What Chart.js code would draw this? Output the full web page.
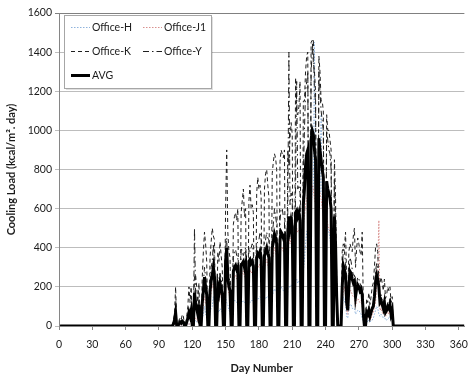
<!DOCTYPE html>
<html>
<head>
<meta charset="utf-8">
<script src="https://cdn.jsdelivr.net/npm/chart.js@4"></script>
<style>
  html, body { margin: 0; padding: 0; background: #fff; }
  canvas { display: block; }
</style>
</head>
<body>
<canvas id="chart" width="476" height="381"></canvas>
<script>
// Daily cooling load, kcal/m2.day. Values below start at day 100; every other day of the year is 0.
const startDay = 100;

const avg = [
  0, 0, 0, 10, 30, 70, 0, 0,          // 100-107
  10, 20, 15, 25, 20, 0, 0,           // 108-114
  20, 40, 70, 50, 80, 0, 0,           // 115-121
  170, 120, 90, 60, 110, 0, 0,        // 122-128
  120, 180, 250, 200, 160, 0, 0,      // 129-135
  180, 230, 260, 300, 250, 0, 0,      // 136-142
  200, 170, 220, 190, 160, 0, 0,      // 143-149
  330, 400, 250, 200, 180, 0, 0,      // 150-156
  280, 300, 310, 290, 300, 0, 0,      // 157-163
  310, 320, 330, 300, 320, 0, 0,      // 164-170
  330, 340, 320, 330, 310, 0, 0,      // 171-177
  350, 370, 360, 380, 350, 0, 0,      // 178-184
  360, 380, 400, 370, 350, 0, 0,      // 185-191
  400, 430, 470, 450, 420, 0, 0,      // 192-198
  440, 480, 470, 450, 460, 0, 0,      // 199-205
  470, 560, 500, 540, 510, 0, 0,      // 206-212
  580, 590, 560, 580, 540, 0, 0,      // 213-219
  620, 700, 820, 880, 900, 0, 0,      // 220-226
  950, 1000, 980, 900, 850, 0, 0,     // 227-233
  960, 900, 850, 800, 760, 0, 0,      // 234-240
  740, 700, 680, 650, 600, 0, 0,      // 241-247
  560, 420, 150, 0, 0, 0, 0,          // 248-254
  200, 310, 290, 250, 120, 80, 200,   // 255-261
  280, 270, 240, 220, 230, 150, 190,  // 262-268
  210, 200, 180, 190, 160, 60, 0,     // 269-275
  0, 70, 60, 80, 50, 70, 90,          // 276-282
  100, 150, 220, 260, 240, 200, 120,  // 283-289
  130, 110, 90, 120, 70, 80, 100,     // 290-296
  90, 110, 60, 80, 0, 0, 0,           // 297-303
  0
];

const officeK = [
  0, 0, 0, 30, 60, 200, 0, 0,
  30, 40, 30, 60, 50, 0, 0,
  50, 100, 200, 120, 200, 0, 0,
  260, 260, 200, 120, 220, 0, 0,
  250, 380, 480, 420, 330, 0, 0,
  350, 430, 500, 460, 440, 0, 0,
  380, 330, 430, 360, 300, 0, 0,
  600, 900, 480, 380, 350, 0, 0,
  520, 560, 580, 540, 600, 0, 0,
  580, 640, 700, 560, 600, 0, 0,
  640, 720, 600, 620, 580, 0, 0,
  680, 760, 700, 720, 660, 0, 0,
  700, 780, 800, 720, 660, 0, 0,
  780, 840, 880, 860, 800, 0, 0,
  840, 900, 880, 860, 900, 0, 0,
  900, 820, 960, 1040, 980, 0, 0,
  1270, 1100, 1080, 1120, 1250, 0, 0,
  1150, 1150, 1300, 1380, 1400, 0, 0,
  1450, 1460, 1350, 1300, 1200, 0, 0,
  1380, 1300, 1150, 1150, 1100, 0, 0,
  1080, 1000, 1000, 950, 900, 0, 0,
  850, 650, 250, 0, 0, 0, 0,
  380, 420, 400, 480, 240, 150, 380,
  420, 400, 380, 460, 500, 300, 400,
  450, 420, 380, 360, 480, 120, 0,
  0, 140, 120, 170, 110, 150, 200,
  220, 300, 400, 420, 380, 220, 220,
  250, 220, 180, 240, 140, 160, 200,
  180, 200, 120, 150, 0, 0, 0,
  0
];

const officeY = [
  0, 0, 0, 10, 40, 60, 0, 0,
  10, 30, 20, 30, 20, 0, 0,
  20, 40, 60, 60, 90, 0, 0,
  500, 150, 100, 80, 150, 0, 0,
  150, 220, 300, 250, 200, 0, 0,
  220, 300, 330, 420, 320, 0, 0,
  250, 210, 270, 240, 200, 0, 0,
  400, 450, 300, 250, 220, 0, 0,
  350, 380, 390, 360, 360, 0, 0,
  400, 380, 360, 380, 400, 0, 0,
  400, 380, 400, 420, 380, 0, 0,
  420, 430, 440, 480, 440, 0, 0,
  440, 440, 480, 450, 440, 0, 0,
  480, 520, 600, 560, 520, 0, 0,
  540, 600, 600, 560, 550, 0, 0,
  580, 1400, 620, 680, 640, 0, 0,
  700, 1250, 700, 720, 680, 0, 0,
  780, 1000, 1200, 1250, 1300, 0, 0,
  1300, 1400, 1460, 1200, 1150, 0, 0,
  1300, 1200, 1100, 1050, 1000, 0, 0,
  1000, 950, 900, 880, 800, 0, 0,
  750, 560, 200, 0, 0, 0, 0,
  250, 400, 380, 320, 150, 100, 260,
  350, 330, 290, 260, 260, 180, 220,
  250, 240, 220, 200, 150, 80, 0,
  0, 90, 80, 100, 60, 80, 100,
  120, 180, 280, 320, 300, 200, 140,
  160, 130, 110, 140, 90, 100, 120,
  110, 140, 70, 100, 0, 0, 0,
  0
];

const officeH = [
  0, 0, 0, 0, 10, 10, 0, 0,
  0, 5, 5, 5, 5, 0, 0,
  5, 10, 10, 10, 15, 0, 0,
  20, 30, 20, 20, 30, 0, 0,
  40, 60, 100, 60, 50, 0, 0,
  70, 90, 100, 150, 110, 0, 0,
  80, 70, 90, 80, 70, 0, 0,
  150, 120, 110, 80, 70, 0, 0,
  120, 130, 130, 120, 110, 0, 0,
  120, 120, 130, 120, 130, 0, 0,
  130, 120, 130, 130, 130, 0, 0,
  140, 140, 140, 150, 140, 0, 0,
  140, 140, 150, 150, 140, 0, 0,
  160, 170, 190, 180, 170, 0, 0,
  180, 200, 190, 180, 180, 0, 0,
  190, 200, 200, 210, 200, 0, 0,
  230, 240, 220, 230, 220, 0, 0,
  280, 340, 420, 480, 500, 0, 0,
  600, 700, 700, 1450, 650, 0, 0,
  750, 680, 1080, 600, 560, 0, 0,
  520, 500, 480, 450, 400, 0, 0,
  380, 280, 80, 0, 0, 0, 0,
  90, 150, 130, 110, 50, 40, 90,
  110, 110, 90, 90, 90, 60, 70,
  80, 80, 70, 60, 40, 20, 0,
  0, 30, 20, 30, 20, 30, 30,
  40, 60, 80, 100, 90, 60, 50,
  60, 50, 40, 50, 30, 30, 40,
  40, 50, 30, 40, 0, 0, 0,
  0
];

const officeJ1 = [
  0, 0, 0, 0, 10, 10, 0, 0,
  0, 5, 5, 5, 5, 0, 0,
  5, 10, 10, 10, 15, 0, 0,
  30, 40, 40, 20, 40, 0, 0,
  60, 100, 150, 120, 100, 0, 0,
  120, 170, 200, 220, 180, 0, 0,
  160, 130, 170, 150, 120, 0, 0,
  300, 250, 200, 160, 150, 0, 0,
  230, 250, 260, 240, 250, 0, 0,
  260, 270, 280, 250, 270, 0, 0,
  280, 290, 270, 280, 260, 0, 0,
  290, 310, 300, 320, 290, 0, 0,
  300, 320, 340, 310, 290, 0, 0,
  340, 360, 400, 380, 350, 0, 0,
  370, 400, 400, 380, 390, 0, 0,
  400, 450, 420, 460, 430, 0, 0,
  480, 500, 480, 490, 460, 0, 0,
  520, 560, 620, 650, 680, 0, 0,
  700, 720, 700, 650, 620, 0, 0,
  700, 680, 650, 600, 580, 0, 0,
  560, 520, 500, 480, 450, 0, 0,
  400, 300, 100, 0, 0, 0, 0,
  120, 180, 200, 160, 80, 60, 140,
  180, 180, 160, 150, 150, 100, 130,
  140, 130, 120, 130, 100, 40, 0,
  0, 50, 40, 50, 30, 40, 60,
  70, 100, 120, 200, 300, 540, 80,
  90, 70, 60, 80, 50, 60, 80,
  60, 80, 50, 60, 0, 0, 0,
  0
];

const xTicks = [0, 30, 60, 90, 120, 150, 180, 210, 240, 270, 300, 330, 360];
const yTicks = [0, 200, 400, 600, 800, 1000, 1200, 1400, 1600];

const days = Array.from({ length: 365 }, (_, i) => i + 1);

function toPoints(season) {
  return days.map(d => {
    const i = d - startDay;
    return { x: d, y: (i >= 0 && i < season.length) ? season[i] : 0 };
  });
}

const FONT = 'Lato, "Open Sans", sans-serif';

// legend drawn as a boxed panel inside the plot, 2 columns
const legendBox = {
  id: 'legendBox',
  afterDatasetsDraw(chart) {
    const ctx = chart.ctx;
    const x0 = 64, y0 = 15, w = 147, h = 73;
    ctx.save();
    ctx.fillStyle = 'rgba(0,0,0,0.12)';
    ctx.fillRect(x0 + 2, y0 + 2, w, h);
    ctx.fillStyle = '#fff';
    ctx.fillRect(x0, y0, w, h);
    ctx.strokeStyle = '#a6a6a6';
    ctx.lineWidth = 1;
    ctx.strokeRect(x0 + 0.5, y0 + 0.5, w, h);
    const cols = [71, 143], rows = [27.5, 51.5, 75.5];
    ctx.font = '10.5px ' + FONT;
    ctx.textBaseline = 'middle';
    chart.data.datasets.forEach((ds, i) => {
      const lx = cols[i % 2], ly = rows[Math.floor(i / 2)];
      ctx.beginPath();
      ctx.strokeStyle = ds.borderColor;
      ctx.lineWidth = ds.borderWidth;
      ctx.setLineDash(ds.borderDash || []);
      ctx.moveTo(lx, ly);
      ctx.lineTo(lx + 19, ly);
      ctx.stroke();
      ctx.setLineDash([]);
      ctx.fillStyle = '#1a1a1a';
      ctx.fillText(ds.label, lx + 21, ly);
    });
    ctx.restore();
  }
};

const line = (label, data, color, width, dash, order) => ({
  label, data: toPoints(data), borderColor: color, borderWidth: width,
  borderDash: dash, order, pointRadius: 0, tension: 0, fill: false
});

new Chart(document.getElementById('chart'), {
  type: 'line',
  data: {
    datasets: [
      line('Office-H', officeH, '#8fb3dc', 1, [1.5, 1.5], 4),
      line('Office-J1', officeJ1, '#d9908e', 1, [1.5, 1.5], 3),
      line('Office-K', officeK, '#1f1f1f', 1, [4, 3], 2),
      line('Office-Y', officeY, '#1f1f1f', 1, [6, 3, 1.5, 3], 1),
      line('AVG', avg, '#000', 3, [], 0)
    ]
  },
  options: {
    responsive: false,
    devicePixelRatio: 1,
    animation: false,
    layout: { padding: { top: 13, right: 3, left: 0, bottom: 0 } },
    plugins: { legend: { display: false }, tooltip: { enabled: false } },
    scales: {
      x: {
        type: 'linear',
        min: 0,
        max: 365,
        afterBuildTicks: s => { s.ticks = xTicks.map(v => ({ value: v })); },
        afterFit: s => { s.height = 55; },
        ticks: { font: { family: FONT, size: 10.5 }, color: '#1a1a1a', padding: 8, maxRotation: 0, callback: v => String(v) },
        grid: { drawOnChartArea: false, drawTicks: true, tickLength: 4, color: '#868686' },
        border: { color: '#868686' },
        title: { display: true, text: 'Day Number', font: { family: FONT, size: 11, weight: 'bold' }, color: '#1a1a1a', padding: { top: 0, bottom: 6 } }
      },
      y: {
        min: 0,
        max: 1600,
        afterBuildTicks: s => { s.ticks = yTicks.map(v => ({ value: v })); },
        afterFit: s => { s.width = 59; },
        ticks: { font: { family: FONT, size: 10.5 }, color: '#1a1a1a', padding: 3, callback: v => String(v) },
        grid: {
          color: c => (c.tick && c.tick.value === 1600) ? '#808080' : '#bdbdbd',
          tickLength: 4
        },
        border: { color: '#868686' },
        title: { display: true, text: 'Cooling Load (kcal/m². day)', font: { family: FONT, size: 11, weight: 'bold' }, color: '#1a1a1a', padding: { top: 5, bottom: 0 } }
      }
    }
  },
  plugins: [legendBox]
});
</script>
</body>
</html>
